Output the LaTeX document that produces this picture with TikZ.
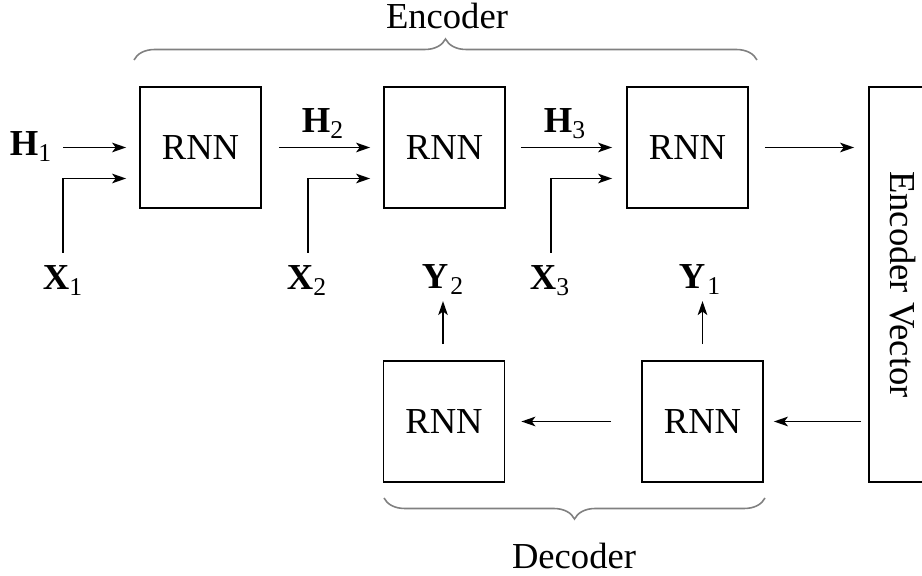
\documentclass[tikz,border=0pt]{standalone}
\usepackage{fontspec}
\setmainfont{Liberation Serif}
\usetikzlibrary{arrows.meta,decorations.pathreplacing,calc}
\newcommand{\vecsym}[2]{{\bfseries #1}\textsubscript{#2}}
\begin{document}
\begin{tikzpicture}[x=0.5pt,y=-0.5pt,
  font=\fontsize{18.3}{22}\selectfont,
  rnnbox/.style={draw,line width=0.9pt,minimum width=60.5pt,minimum height=60.5pt,inner sep=0pt},
  conn/.style={line width=0.8pt,-{Stealth[length=7pt,width=4.8pt,inset=1.8pt]}},
  brc/.style={draw=black!50,line width=0.8pt,decorate,decoration={brace,amplitude=10.5pt}},
  lbl/.style={inner sep=0pt,anchor=base}]
\useasboundingbox (0,0) rectangle (922,576);
\clip (0,0) rectangle (922,576);

% encoder cells
\node[rnnbox] (e1) at (200.5,147.5) {RNN};
\node[rnnbox] (e2) at (444.5,147.5) {RNN};
\node[rnnbox] (e3) at (687.5,147.5) {RNN};
% decoder cells
\node[rnnbox] (d2) at (444,421.5) {RNN};
\node[rnnbox] (d1) at (702.5,421.5) {RNN};
% context vector
\node[draw,line width=0.9pt,minimum width=34pt,minimum height=197.5pt,inner sep=0pt] (ev) at (903,284.5) {};
\node[rotate=-90] (evtext) at (ev.center) {Encoder Vector};

% labels
\node[lbl] (h1) at (31,156) {\vecsym{H}{1}};
\node[lbl] (h2) at (323,133) {\vecsym{H}{2}};
\node[lbl] (h3) at (565,133) {\vecsym{H}{3}};
\node[lbl] (x1) at (63,290) {\vecsym{X}{1}};
\node[lbl] (x2) at (307,290) {\vecsym{X}{2}};
\node[lbl] (x3) at (550,290) {\vecsym{X}{3}};
\node[lbl] (y2) at (443,289) {{\bfseries Y}\kern1pt\textsubscript{2}};
\node[lbl] (y1) at (700,289) {{\bfseries Y}\kern1pt\textsubscript{1}};

% corner points of the input lines
\coordinate (x1top) at (63,253);
\coordinate (x2top) at (308,253);
\coordinate (x3top) at (551,253);
\coordinate (h1tail) at (63,147.5);

% hidden-state flow
\draw[conn] (h1tail) -- ($(e1.west)+(-13,0)$);
\draw[conn] ($(e1.east)+(17,0)$) -- ($(e2.west)+(-13,0)$);
\draw[conn] ($(e2.east)+(15,0)$) -- ($(e3.west)+(-14,0)$);
\draw[conn] ($(e3.east)+(16,0)$) -- ($(ev.west |- e3.east)+(-14,0)$);

% inputs
\draw[conn] (x1top) |- ($(e1.west)+(-13,31)$);
\draw[conn] (x2top) |- ($(e2.west)+(-13,31)$);
\draw[conn] (x3top) |- ($(e3.west)+(-14,31)$);

% decoding
\draw[conn] ($(ev.west |- d1.east)+(-7,0)$) -- ($(d1.east)+(10,0)$);
\draw[conn] ($(d1.west)+(-30,0)$) -- ($(d2.east)+(16,0)$);
\draw[conn] ($(d2.north)+(-1,-16)$) -- ($(d2.north)+(-1,-59)$);
\draw[conn] ($(d1.north)+(0,-16)$) -- ($(d1.north)+(0,-59)$);

% groups
\draw[brc] (134,60) -- (757,60);
\node[lbl] (enc) at (447,29) {Encoder};
\draw[brc] (765,498) -- (384,498);
\node[lbl] (dec) at (574,569) {Decoder};
\end{tikzpicture}
\end{document}
